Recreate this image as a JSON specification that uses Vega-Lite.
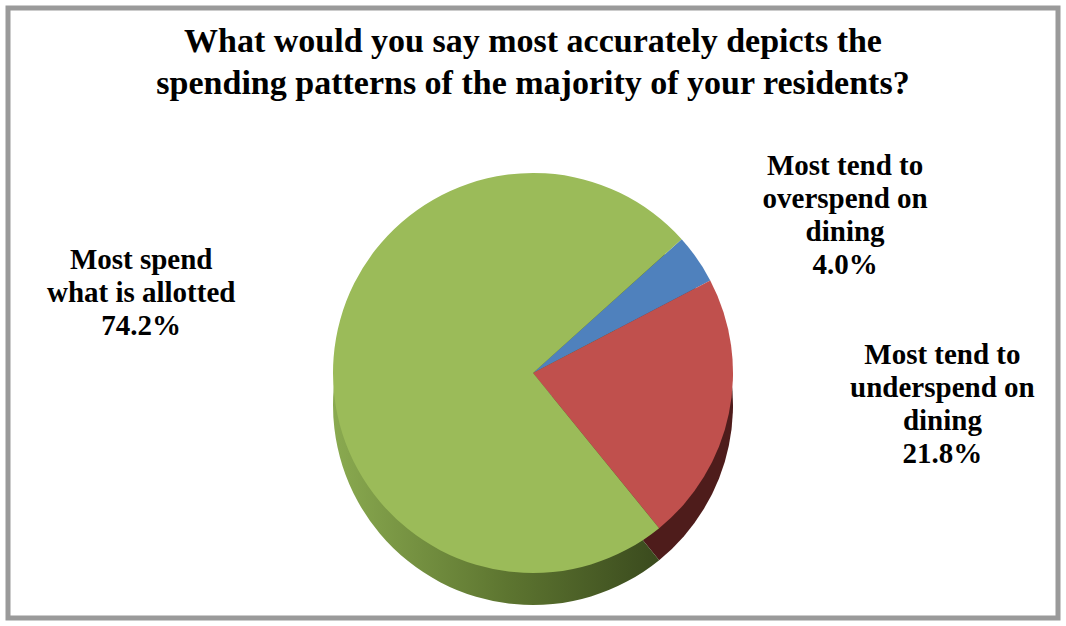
{
  "$schema": "https://vega.github.io/schema/vega-lite/v6.json",
  "autosize": {"type": "fit", "contains": "padding"},
  "width": 1066,
  "height": 626,
  "padding": 8,
  "background": "white",
  "view": {"stroke": "#9a9a9a", "strokeWidth": 5, "fill": "white"},
  "title": {
    "text": ["What would you say most accurately depicts the", "spending patterns of the majority of your residents?"],
    "font": "Liberation Serif",
    "fontSize": 34,
    "fontWeight": "bold",
    "color": "#000000",
    "lineHeight": 42,
    "anchor": "middle",
    "offset": -93
  },
  "data": {
    "values": [
      {"category": "Most tend to overspend on dining", "share": 4.0, "rank": 1, "label": "Most tend to\noverspend on\ndining\n4.0%"},
      {"category": "Most tend to underspend on dining", "share": 21.8, "rank": 2, "label": "Most tend to\nunderspend on\ndining\n21.8%"},
      {"category": "Most spend what is allotted", "share": 74.2, "rank": 3, "label": "Most spend\nwhat is allotted\n74.2%"}
    ]
  },
  "encoding": {
    "theta": {"field": "share", "type": "quantitative", "stack": true, "scale": {"range": [0.838, 7.121]}},
    "order": {"field": "rank", "type": "quantitative"}
  },
  "layer": [
    {
      "mark": {"type": "arc", "radius": 200, "yOffset": 92},
      "encoding": {
        "fill": {
          "condition": [
            {"test": "datum.category === 'Most spend what is allotted'", "value": {"gradient": "linear", "x1": 0, "x2": 1, "y1": 0, "y2": 0, "stops": [{"offset": 0, "color": "#8aaa50"}, {"offset": 0.5, "color": "#5d7530"}, {"offset": 1, "color": "#35441b"}]}},
            {"test": "datum.category === 'Most tend to underspend on dining'", "value": "#4e1c1b"}
          ],
          "value": "#2c4a72"
        }
      }
    },
    {
      "mark": {"type": "arc", "radius": 200, "yOffset": 60},
      "encoding": {
        "color": {
          "field": "category",
          "type": "nominal",
          "scale": {"domain": ["Most tend to overspend on dining", "Most tend to underspend on dining", "Most spend what is allotted"], "range": ["#4f81bd", "#c0504d", "#9bbb59"]},
          "legend": null
        }
      }
    },
    {
      "mark": {"type": "text", "radius": 380, "yOffset": 60, "dy": 10, "font": "Liberation Serif", "fontSize": 29, "fontWeight": "bold", "lineBreak": "\n", "lineHeight": 33, "align": "center", "baseline": "middle", "color": "#000000"},
      "encoding": {"text": {"condition": {"test": "datum.category === 'Most tend to overspend on dining'", "field": "label"}, "value": ""}}
    },
    {
      "mark": {"type": "text", "radius": 418, "yOffset": 60, "dy": -102, "font": "Liberation Serif", "fontSize": 29, "fontWeight": "bold", "lineBreak": "\n", "lineHeight": 33, "align": "center", "baseline": "middle", "color": "#000000"},
      "encoding": {"text": {"condition": {"test": "datum.category === 'Most tend to underspend on dining'", "field": "label"}, "value": ""}}
    },
    {
      "mark": {"type": "text", "radius": 393, "yOffset": 60, "dy": -83, "font": "Liberation Serif", "fontSize": 29, "fontWeight": "bold", "lineBreak": "\n", "lineHeight": 33, "align": "center", "baseline": "middle", "color": "#000000"},
      "encoding": {"text": {"condition": {"test": "datum.category === 'Most spend what is allotted'", "field": "label"}, "value": ""}}
    }
  ]
}
